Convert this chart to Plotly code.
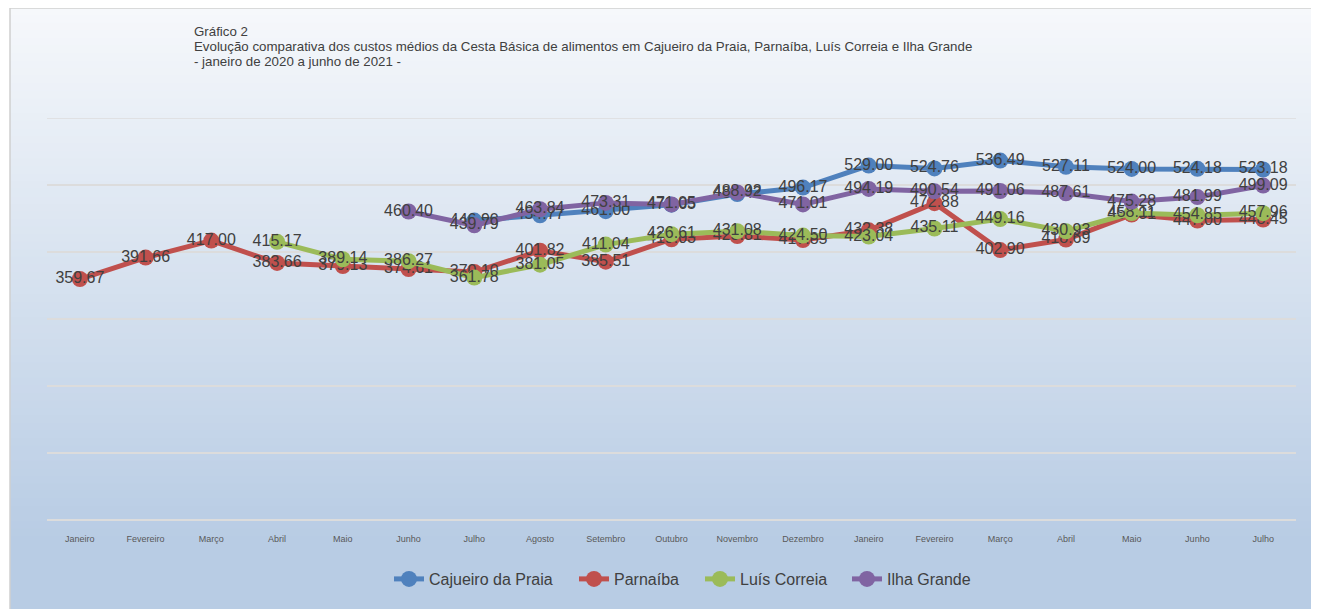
import plotly.graph_objects as go

meses = ["Janeiro", "Fevereiro", "Março", "Abril", "Maio", "Junho", "Julho", "Agosto",
         "Setembro", "Outubro", "Novembro", "Dezembro", "Janeiro", "Fevereiro", "Março",
         "Abril", "Maio", "Junho", "Julho"]

cajueiro = [None, None, None, None, None, None, 446.90, 454.77, 461.00, 470.65, 486.42,
            496.17, 529.00, 524.76, 536.49, 527.11, 524.00, 524.18, 523.18]
parnaiba = [359.67, 391.66, 417.00, 383.66, 379.13, 374.61, 370.10, 401.82, 385.51, 419.03,
            423.81, 417.85, 432.38, 472.88, 402.90, 418.69, 455.81, 447.00, 448.45]
luis_correia = [None, None, None, 415.17, 389.14, 386.27, 361.78, 381.05, 411.04, 426.61,
                431.08, 424.50, 423.04, 435.11, 449.16, 430.93, 458.11, 454.85, 457.96]
ilha_grande = [None, None, None, None, None, 460.40, 439.79, 463.84, 473.31, 471.05,
               488.92, 471.01, 494.19, 490.54, 491.06, 487.61, 475.28, 481.99, 499.09]

titulo = ["Gráfico 2",
          "Evolução comparativa dos custos médios da Cesta Básica de alimentos em Cajueiro da Praia, Parnaíba, Luís Correia e Ilha Grande",
          "- janeiro de 2020 a junho de 2021 -"]

series = [
    ("Cajueiro da Praia", cajueiro, "#4f81bd"),
    ("Parnaíba", parnaiba, "#c0504d"),
    ("Luís Correia", luis_correia, "#9bbb59"),
    ("Ilha Grande", ilha_grande, "#8064a2"),
]
legend_text_px = [429, 614, 740, 887]  # reference x where each legend label starts

# page offset of the figure inside the browser (body margin)
OFF = 8
W, H = 1319 - OFF, 609 - OFF
L, R, T, B = 47 - OFF, 23, 118 - OFF, 89
pw, ph = W - L - R, H - T - B

def px_to_paper_x(px):  # px in reference screenshot coordinates
    return (px - OFF - L) / pw

def py_to_paper_y(py):
    return (H - B - (py - OFF)) / ph

x = list(range(len(meses)))
fig = go.Figure()
legend_names = ["legend", "legend2", "legend3", "legend4"]
for (name, vals, color), lg in zip(series, legend_names):
    fig.add_trace(go.Scatter(
        x=x, y=vals, name=name, mode="lines+markers+text",
        line=dict(color=color, width=5),
        marker=dict(color=color, size=16),
        text=[f"{v:.2f}" if v is not None else "" for v in vals],
        textposition="middle center",
        textfont=dict(family="Liberation Sans, Arial", size=16, color="#404040"),
        cliponaxis=False,
        connectgaps=False,
        legend=lg,
    ))

shapes = []
top_px, bot_px = 8, 612
n = 80
c0 = (246, 248, 251)
c1 = (184, 204, 228)
for i in range(n):
    y0p = top_px + (bot_px - top_px) * i / n
    y1p = top_px + (bot_px - top_px) * (i + 1) / n
    t = (i + 0.5) / n
    t = min(1.0, t / 0.88)
    c = tuple(int(round(c0[k] + (c1[k] - c0[k]) * t)) for k in range(3))
    shapes.append(dict(type="rect", xref="paper", yref="paper", layer="below",
                       x0=px_to_paper_x(10), x1=px_to_paper_x(1317),
                       y0=py_to_paper_y(y1p) - 0.001, y1=py_to_paper_y(y0p) + 0.001,
                       line=dict(width=0), fillcolor=f"rgb{c}"))
shapes.append(dict(type="rect", xref="paper", yref="paper", layer="below",
                   x0=px_to_paper_x(10), x1=px_to_paper_x(1317.5),
                   y0=py_to_paper_y(612), y1=py_to_paper_y(8),
                   line=dict(width=1.5, color="#d0d0d0"), fillcolor="rgba(0,0,0,0)"))
# top gridline at 600 (range edge)
shapes.append(dict(type="line", xref="paper", yref="y", layer="below",
                   x0=0, x1=1, y0=600, y1=600, line=dict(width=1.5, color="#dcdcdc")))

annotations = []
for i, linha in enumerate(titulo):
    annotations.append(dict(
        xref="paper", yref="paper", x=px_to_paper_x(192), y=py_to_paper_y(32 + 15 * i),
        xanchor="left", yanchor="middle", align="left", showarrow=False,
        text=linha,
        font=dict(size=13.3, color="#404040", family="Liberation Sans, Arial"),
    ))

legend_layouts = {}
for lg, tx in zip(legend_names, legend_text_px):
    legend_layouts[lg] = dict(
        orientation="h", x=px_to_paper_x(tx - 40), xanchor="left",
        y=py_to_paper_y(579), yanchor="middle",
        font=dict(size=16, color="#404040", family="Liberation Sans, Arial"),
        bgcolor="rgba(0,0,0,0)", itemwidth=30,
    )

fig.update_layout(
    width=W, height=H,
    margin=dict(l=L, r=R, t=T, b=B, autoexpand=False),
    paper_bgcolor="white",
    plot_bgcolor="rgba(0,0,0,0)",
    shapes=shapes,
    font=dict(family="Liberation Sans, Arial", color="#404040"),
    showlegend=True,
    xaxis=dict(
        tickmode="array", tickvals=x, ticktext=meses, range=[-0.5, len(meses) - 0.5],
        showgrid=False, zeroline=False, showline=False, ticks="",
        tickfont=dict(size=9, color="#595959"), ticklabelstandoff=12,
    ),
    yaxis=dict(
        range=[0, 600], dtick=100, showticklabels=False, showgrid=True,
        gridcolor="#dcdcdc", gridwidth=1.5, zeroline=True, zerolinecolor="#dcdcdc",
        zerolinewidth=2, ticks="",
    ),
    annotations=annotations,
    **legend_layouts,
)

fig.write_html("out.html")
